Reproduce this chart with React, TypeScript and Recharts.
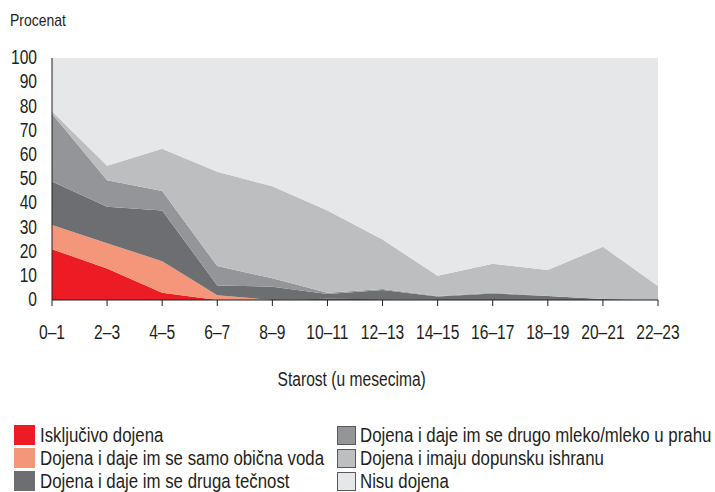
import React from 'react';
import { AreaChart, Area, XAxis, YAxis } from 'recharts';

const ages = ['0–1', '2–3', '4–5', '6–7', '8–9', '10–11', '12–13', '14–15', '16–17', '18–19', '20–21', '22–23'];
const iskljucivo = [21, 13, 3, 0, 0, 0.5, 0.3, 0, 0, 0, 0, 0];
const voda = [10, 10.5, 13, 2, 0, 0, 0, 0, 0, 0, 0, 0];
const tecnost = [18, 15, 21, 4, 5.5, 2, 3.8, 1.4, 2.7, 1.7, 0.4, 0];
const mleko = [28, 11, 8, 8, 3.5, 0.5, 0.4, 0.3, 0.3, 0, 0, 0];
const dopunska = [1, 6, 17.5, 39, 38, 34, 20.5, 8.3, 12, 10.7, 21.6, 5.8];
const nisu = [22, 44.5, 37.5, 47, 53, 63, 75, 90, 85, 87.6, 78, 94.2];
const yTicks = [0, 10, 20, 30, 40, 50, 60, 70, 80, 90, 100];

const series = [
  { key: 'iskljucivo', name: 'Isključivo dojena', color: '#ed1c24', values: iskljucivo },
  { key: 'voda', name: 'Dojena i daje im se samo obična voda', color: '#f4967a', values: voda },
  { key: 'tecnost', name: 'Dojena i daje im se druga tečnost', color: '#6d6e71', values: tecnost },
  { key: 'mleko', name: 'Dojena i daje im se drugo mleko/mleko u prahu', color: '#939598', values: mleko },
  { key: 'dopunska', name: 'Dojena i imaju dopunsku ishranu', color: '#bcbec0', values: dopunska },
  { key: 'nisu', name: 'Nisu dojena', color: '#e6e7e8', values: nisu },
];

const data = ages.map((age, i) => {
  const row: Record<string, string | number> = { age };
  series.forEach(s => { row[s.key] = s.values[i]; });
  return row;
});

const font = '"Liberation Sans", Arial, sans-serif';
const ink = '#231f20';
// no condensed face is installed, so text is squeezed horizontally
const squeeze = 0.8;

const XTick = (props: any) => {
  const { x, y, payload } = props;
  return (
    <g transform={`translate(${x},${y})`}>
      <text transform={`scale(${squeeze},1)`} textAnchor="middle" dy="0.71em" fill={ink} fontSize={19.5} fontFamily={font}>
        {payload.value}
      </text>
    </g>
  );
};

const YTick = (props: any) => {
  const { x, y, payload } = props;
  return (
    <g transform={`translate(${x},${y})`}>
      <text transform={`scale(${squeeze},1)`} textAnchor="end" dy="0.32em" fill={ink} fontSize={19.5} fontFamily={font}>
        {payload.value}
      </text>
    </g>
  );
};

const Squeezed = ({ children, origin = 'left center', k = squeeze }: { children: React.ReactNode; origin?: string; k?: number }) => (
  <span style={{ display: 'inline-block', transform: `scaleX(${k})`, transformOrigin: origin }}>{children}</span>
);

export default function App() {
  return (
    <div style={{ position: 'absolute', left: 0, top: 0, width: 715, height: 492, background: '#fff', fontFamily: font, color: ink }}>
      <div style={{ position: 'absolute', left: 10, top: 12, fontSize: 17, lineHeight: '18px', whiteSpace: 'nowrap' }}>
        <Squeezed k={0.82}>Procenat</Squeezed>
      </div>
      <AreaChart
        width={715}
        height={492}
        data={data}
        margin={{ top: 58, right: 57, left: 10, bottom: 152 }}
      >
        <XAxis
          dataKey="age"
          height={40}
          tickSize={6}
          tickMargin={19}
          interval={0}
          stroke={ink}
          tick={<XTick />}
        />
        <YAxis
          width={42}
          domain={[0, 100]}
          ticks={yTicks}
          tickSize={0}
          tickMargin={15}
          interval={0}
          stroke={ink}
          tick={<YTick />}
        />
        {series.map(s => (
          <Area
            key={s.key}
            dataKey={s.key}
            name={s.name}
            stackId="1"
            type="linear"
            stroke="none"
            fill={s.color}
            fillOpacity={1}
            isAnimationActive={false}
          />
        ))}
      </AreaChart>
      <div style={{ position: 'absolute', left: 0, width: 704, top: 368, textAlign: 'center', fontSize: 19.5, whiteSpace: 'nowrap' }}>
        <Squeezed origin="center center">Starost (u mesecima)</Squeezed>
      </div>
      {series.map((s, i) => {
        const col = i < 3 ? 0 : 1;
        const row = i % 3;
        const left = col === 0 ? 14 : 337;
        const top = 425 + row * 23;
        return (
          <div key={s.key} style={{ position: 'absolute', left, top, height: 20, display: 'flex', alignItems: 'center', whiteSpace: 'nowrap' }}>
            <div style={{
              width: col === 0 ? 21 : 19,
              height: col === 0 ? 20 : 19,
              flex: 'none',
              background: s.color,
              border: col === 1 ? '1px solid #58595b' : 'none',
              boxSizing: 'border-box',
            }} />
            <span style={{ marginLeft: col === 0 ? 5 : 4, fontSize: 20.5, lineHeight: '20px' }}>
              <Squeezed k={0.82}>{s.name}</Squeezed>
            </span>
          </div>
        );
      })}
    </div>
  );
}
